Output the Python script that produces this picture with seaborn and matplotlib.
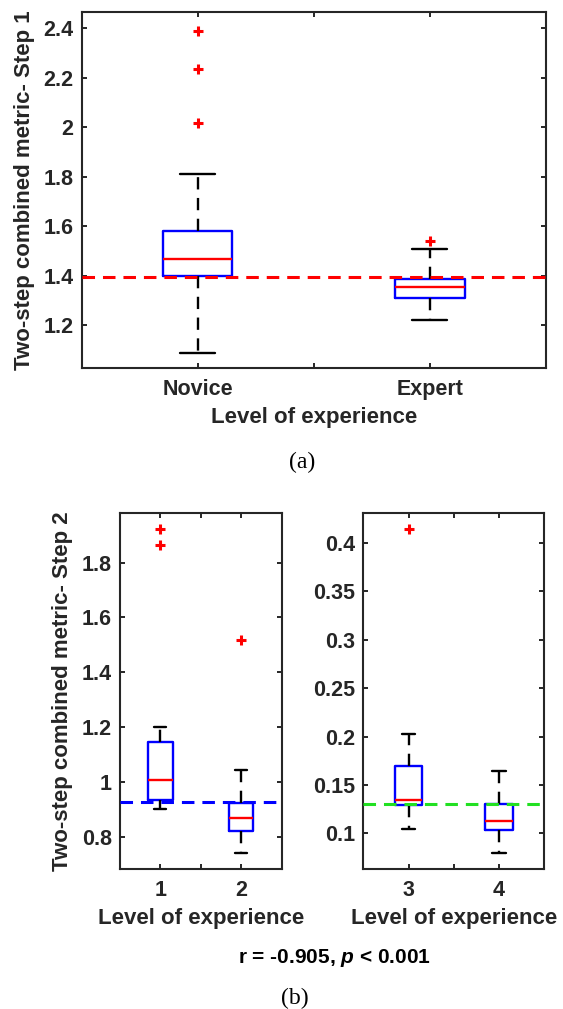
import numpy as np
import pandas as pd
import matplotlib
matplotlib.use("Agg")
import matplotlib.pyplot as plt
import seaborn as sns

# ---------------- data ----------------
# Panel (a)
a_groups = ["Novice", "Expert"]
a_whislo = [1.088, 1.222]
a_q1 = [1.400, 1.311]
a_med = [1.465, 1.354]
a_q3 = [1.582, 1.385]
a_whishi = [1.810, 1.506]
a_out_group = ["Novice", "Novice", "Novice", "Expert"]
a_out_value = [2.390, 2.235, 2.018, 1.539]
a_ref = 1.393
a_yticks = [1.2, 1.4, 1.6, 1.8, 2.0, 2.2, 2.4]
a_yticklabels = ["1.2", "1.4", "1.6", "1.8", "2", "2.2", "2.4"]
a_ylim = (1.025, 2.467)

# Panel (b), left
b1_groups = ["1", "2"]
b1_whislo = [0.900, 0.742]
b1_q1 = [0.932, 0.822]
b1_med = [1.006, 0.869]
b1_q3 = [1.144, 0.922]
b1_whishi = [1.200, 1.043]
b1_out_group = ["1", "1", "2"]
b1_out_value = [1.922, 1.865, 1.518]
b1_ref = 0.928
b1_yticks = [0.8, 1.0, 1.2, 1.4, 1.6, 1.8]
b1_yticklabels = ["0.8", "1", "1.2", "1.4", "1.6", "1.8"]
b1_ylim = (0.681, 1.982)

# Panel (b), right
b2_groups = ["3", "4"]
b2_whislo = [0.105, 0.080]
b2_q1 = [0.129, 0.104]
b2_med = [0.134, 0.113]
b2_q3 = [0.170, 0.130]
b2_whishi = [0.2025, 0.164]
b2_out_group = ["3"]
b2_out_value = [0.414]
b2_ref = 0.130
b2_yticks = [0.1, 0.15, 0.2, 0.25, 0.3, 0.35, 0.4]
b2_yticklabels = ["0.1", "0.15", "0.2", "0.25", "0.3", "0.35", "0.4"]
b2_ylim = (0.063, 0.431)

xlabel_text = "Level of experience"
ylabel_a = "Two-step combined metric- Step 1"
ylabel_b = "Two-step combined metric- Step 2"
stat_text = r"r = -0.905, $p$ < 0.001"

# ---------------- style ----------------
sns.set_theme(style="white")
DARK = "#262626"
BLUE = "#0000FF"
RED = "#FF0000"
GREEN = "#22E022"
plt.rcParams["font.family"] = ["Liberation Sans", "DejaVu Sans"]
plt.rcParams["font.weight"] = "bold"
plt.rcParams["axes.labelweight"] = "bold"
plt.rcParams["mathtext.fontset"] = "custom"
plt.rcParams["mathtext.it"] = "Liberation Sans:italic:bold"
plt.rcParams["mathtext.rm"] = "Liberation Sans:bold"


def five_number_frame(groups, lo, q1, med, q3, hi):
    rows = []
    for g, v_lo, v_q1, v_med, v_q3, v_hi in zip(groups, lo, q1, med, q3, hi):
        for v in (v_lo, v_q1, v_med, v_q3, v_hi):
            rows.append((g, v))
    return pd.DataFrame(rows, columns=["group", "value"])


def draw_panel(ax, groups, lo, q1, med, q3, hi, out_g, out_v, ref, refcolor,
               yticks, yticklabels, ylim, ylabel, tick_fs, label_fs):
    df = five_number_frame(groups, lo, q1, med, q3, hi)
    sns.boxplot(data=df, x="group", y="value", order=groups, ax=ax,
                whis=np.inf, width=0.3, fill=False, color=BLUE, linewidth=1.7,
                showfliers=False,
                boxprops=dict(color=BLUE, linewidth=1.7),
                medianprops=dict(color=RED, linewidth=1.7),
                whiskerprops=dict(color="black", linewidth=1.7, linestyle=(0, (5.2, 3.6))),
                capprops=dict(color="black", linewidth=1.7))
    ax.axhline(ref, color=refcolor, linewidth=2.2, linestyle=(0, (4.1, 2.6)), zorder=4)
    odf = pd.DataFrame({"group": out_g, "value": out_v})
    sns.stripplot(data=odf, x="group", y="value", order=groups, ax=ax,
                  jitter=False, marker="+", color=RED, size=7.5, linewidth=2.2,
                  zorder=5)
    ax.set_xlim(-0.5, 1.5)
    ax.set_xticks([0, 0.5, 1], [groups[0], "", groups[1]])
    ax.set_ylim(*ylim)
    ax.set_yticks(yticks, yticklabels)
    ax.tick_params(direction="in", top=True, right=True, bottom=True, left=True,
                   length=3.8, width=1.4, color=DARK, labelcolor=DARK,
                   labelsize=tick_fs, pad=6)
    ax.tick_params(axis="x", pad=8)
    for s in ax.spines.values():
        s.set_visible(True)
        s.set_linewidth(1.5)
        s.set_color(DARK)
    ax.set_xlabel(xlabel_text, fontsize=label_fs, fontweight="bold", color=DARK, labelpad=5)
    if ylabel:
        ax.set_ylabel(ylabel, fontsize=label_fs, fontweight="bold", color=DARK, labelpad=6)
    else:
        ax.set_ylabel("")
    ax.grid(False)


fig = plt.figure(figsize=(5.63, 10.09), dpi=100)
ax_a = fig.add_axes([0.1451, 0.6350, 0.8242, 0.3534])
ax_b1 = fig.add_axes([0.2131, 0.1385, 0.2872, 0.3534])
ax_b2 = fig.add_axes([0.6453, 0.1385, 0.3215, 0.3534])

draw_panel(ax_a, a_groups, a_whislo, a_q1, a_med, a_q3, a_whishi,
           a_out_group, a_out_value, a_ref, RED,
           a_yticks, a_yticklabels, a_ylim, ylabel_a, 15.5, 16)
draw_panel(ax_b1, b1_groups, b1_whislo, b1_q1, b1_med, b1_q3, b1_whishi,
           b1_out_group, b1_out_value, b1_ref, BLUE,
           b1_yticks, b1_yticklabels, b1_ylim, ylabel_b, 15.5, 16)
draw_panel(ax_b2, b2_groups, b2_whislo, b2_q1, b2_med, b2_q3, b2_whishi,
           b2_out_group, b2_out_value, b2_ref, GREEN,
           b2_yticks, b2_yticklabels, b2_ylim, None, 15.5, 16)

fig.text(0.5364, 0.5421, "(a)", ha="center", va="center",
         family=["Liberation Serif", "DejaVu Serif"], fontweight="normal",
         fontsize=17, color="black")
fig.text(0.595, 0.0505, stat_text, ha="center", va="center",
         fontsize=15, fontweight="bold", color="black")
fig.text(0.524, 0.0109, "(b)", ha="center", va="center",
         family=["Liberation Serif", "DejaVu Serif"], fontweight="normal",
         fontsize=17, color="black")

fig.savefig("out.png", dpi=100)
